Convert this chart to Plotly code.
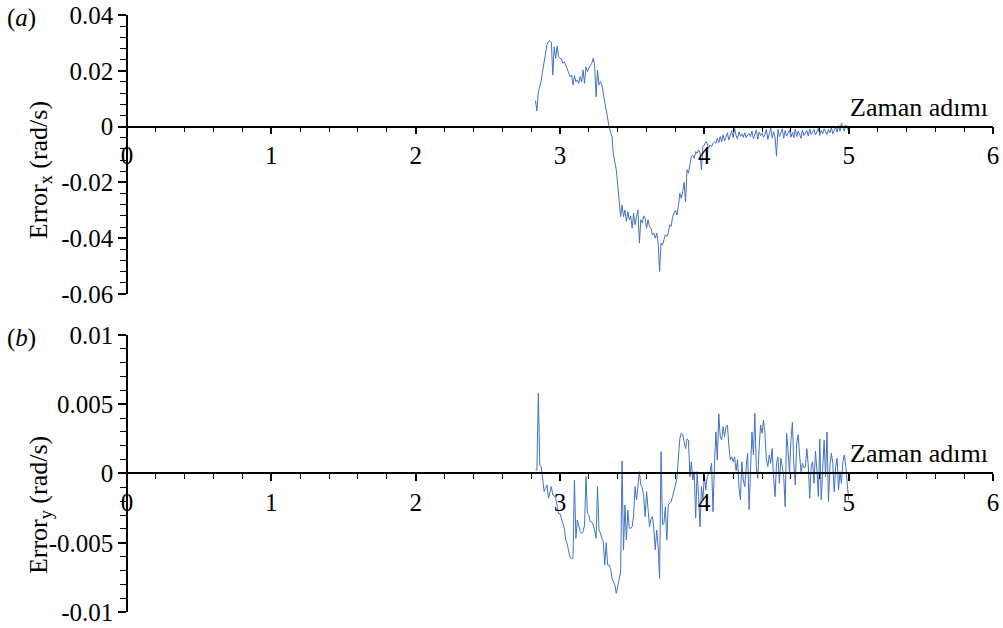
import plotly.graph_objects as go

# ---------------- data ----------------
T0 = 2.83          # first time step of both series
DT = 0.01          # sampling step

# Error_x in units of 1e-3 rad/s, t = 2.83 ... 5.00
err_x_milli = [
    9.3, 5.6, 12.5, 14.5, 16.5, 20.0, 23.2, 26.5, 29.5, 30.5,
    30.8, 30.2, 18.5, 28.6, 24.5, 28.9, 25.0, 24.5, 24.2, 22.7,
    23.2, 22.0, 20.5, 19.7, 17.9, 18.5, 14.9, 18.3, 16.1, 16.7,
    15.5, 17.9, 16.0, 20.3, 15.5, 21.4, 19.7, 21.0, 21.8, 22.7,
    24.5, 22.0, 10.7, 20.3, 14.9, 16.1, 14.9, 12.5, 8.9, 5.9,
    2.4, 0.0, -2.0, -3.5, -10.0, -13.0, -15.5, -21.0, -26.0, -32.3,
    -28.1, -32.3, -29.9, -34.0, -30.5, -33.4, -32.0, -36.4, -31.1, -35.2,
    -32.3, -29.9, -41.8, -33.4, -34.6, -32.0, -32.9, -36.4, -33.4, -35.8,
    -36.5, -38.8, -38.2, -40.0, -38.2, -41.8, -51.9, -41.8, -42.5, -40.0,
    -38.8, -39.4, -38.2, -35.2, -35.8, -32.3, -31.0, -29.9, -31.7, -28.7,
    -23.9, -25.7, -23.3, -20.0, -26.9, -15.5, -16.7, -13.7, -10.8, -10.2,
    -11.4, -9.0, -9.6, -8.4, -9.2, -15.5, -7.2, -6.6, -5.4, -6.0,
    -7.8, -6.6, -7.2, -6.0, -5.4, -6.0, -4.2, -5.8, -3.6, -5.5,
    -3.0, -5.2, -4.0, -2.2, -4.8, -3.5, -1.5, -4.0, -0.6, -3.2,
    -4.5, -1.8, -3.5, -2.6, -3.9, -2.2, -4.0, -3.0, -2.5, -3.6,
    -1.6, -4.4, -2.8, -1.2, -4.5, -2.0, -3.2, -2.4, -3.8, -2.8,
    -1.0, -4.6, -2.5, -0.6, -4.0, -1.8, -3.8, -10.6, -1.0, -3.6,
    -2.2, -0.8, -4.2, -1.4, -3.4, -2.2, -1.2, -3.8, -2.0, -4.0,
    -0.9, -3.6, -1.6, -2.8, -4.2, -1.2, -3.2, -2.4, -1.4, -3.4,
    -0.8, -2.8, -1.8, -1.0, -3.0, -1.6, -0.6, -3.2, -1.4, -2.6,
    -0.8, -1.9, -2.8, -1.0, -2.2, -0.4, -2.6, -1.2, -0.2, -2.0,
    0.4, -1.6, 1.3, -0.4, -1.6, 0.6, -0.2, -1.8,
]

# Error_y in units of 1e-3 rad/s, t = 2.83 ... 5.00
err_y_milli = [
    0.25, 0.25, 5.79, 0.61, 0.49, -0.59, -1.31, -1.07, -0.83, -1.79,
    -1.31, -0.95, -1.55, -1.6, -1.79, -2.4, -2.88, -2.9, -3.3, -3.6,
    -3.96, -4.8, -5.1, -5.6, -6.08, -6.12, -6.1, -0.47, -4.68, -3.36,
    -3.84, -4.2, -4.32, -4.2, -3.72, -0.23, -2.9, -3.0, -3.48, -3.5,
    -3.72, -4.08, -4.68, -0.95, -4.08, -4.3, -4.68, -4.92, -6.6, -5.0,
    -6.6, -6.6, -6.85, -7.57, -7.8, -8.05, -8.65, -8.2, -7.7, -7.09,
    0.9, -5.52, -2.27, -4.8, -2.64, -3.96, -3.96, -3.84, -3.0, -0.95,
    -1.91, -1.07, 0.13, -0.83, -1.0, -1.67, -3.12, -1.31, -2.6, -3.84,
    -3.3, -3.12, -3.96, -5.52, -4.08, -5.3, -7.57, 1.58, -3.72, -3.6,
    -2.4, -4.8, -2.27, -2.15, -2.03, -1.67, -1.31, -0.83, -0.35, 1.1,
    2.5, 2.9, 2.8, 2.3, 1.8, 2.5, 2.4, -0.23, 0.85, -0.47,
    0.13, -3.2, 0.13, -1.67, -3.84, -0.95, -1.91, -0.1, -1.19, -0.23,
    0.0, 0.13, 0.73, -2.76, 0.6, 3.0, 0.97, 4.3, 2.66, 2.42,
    3.38, 2.66, 3.38, 3.5, 2.0, 0.97, 1.2, 0.85, 1.2, 0.2,
    1.0, -1.0, -1.9, 0.85, -0.47, -0.95, 0.5, 1.46, -2.6, 0.5,
    3.0, 1.34, 4.35, 0.5, -0.35, 1.9, 3.5, 2.9, 3.86, 2.9,
    0.97, 0.5, 1.34, 0.73, 1.8, -0.35, -1.67, 0.73, 1.2, -0.71,
    1.1, 0.5, -0.23, -2.4, 2.9, 1.7, 0.0, 2.4, 3.7, 0.73,
    -0.83, 2.2, 2.8, 1.34, 0.13, 0.73, 0.4, 0.5, 1.8, 0.6,
    -1.79, 0.5, 0.85, -0.71, 1.6, 0.25, -1.67, 2.5, -1.9, 0.25,
    2.4, -0.23, 3.0, -2.03, 0.5, 1.46, 0.73, -1.31, 0.5, 1.1,
    -1.19, 0.13, -0.71, 0.85, 1.34, 0.5, -1.07, -1.91,
]

x_range = [0, 6]
x_tickvals = [0, 1, 2, 3, 4, 5, 6]
x_ticktext = ["0", "1", "2", "3", "4", "5", "6"]

top_range = [-0.06, 0.04]
top_tickvals = [-0.06, -0.04, -0.02, 0, 0.02, 0.04]
top_ticktext = ["-0.06", "-0.04", "-0.02", "0", "0.02", "0.04"]

bot_range = [-0.01, 0.01]
bot_tickvals = [-0.01, -0.005, 0, 0.005, 0.01]
bot_ticktext = ["-0.01", "-0.005", "0", "0.005", "0.01"]

x_label = "Zaman adımı"
top_title = "Error<sub>x</sub> (rad/s)"
bot_title = "Error<sub>y</sub> (rad/s)"
panel_labels = ["(<i>a</i>)", "(<i>b</i>)"]

# ---------------- styling ----------------
FONT = "Times New Roman, Liberation Serif, serif"
LINE_COLOR = "#4472C4"
W, H = 1003, 628
dom_top = [0.5327, 1.0]
dom_bot = [0.0, 0.464]


def zero_pos(dom, rng):
    return dom[0] + (0 - rng[0]) / (rng[1] - rng[0]) * (dom[1] - dom[0])


fig = go.Figure()
fig.add_trace(go.Scatter(
    x0=T0, dx=DT, y=[v / 1000 for v in err_x_milli],
    mode="lines", line=dict(color=LINE_COLOR, width=1),
    xaxis="x", yaxis="y", showlegend=False))
fig.add_trace(go.Scatter(
    x0=T0, dx=DT, y=[v / 1000 for v in err_y_milli],
    mode="lines", line=dict(color=LINE_COLOR, width=1),
    xaxis="x2", yaxis="y2", showlegend=False))

tickfont = dict(family=FONT, size=25, color="black")

xcommon = dict(
    range=x_range, domain=[0, 1], anchor="free", automargin=False,
    showline=True, linecolor="black", linewidth=1.5,
    ticks="outside", ticklen=7, tickwidth=1.5, tickcolor="black",
    tickmode="array", tickvals=x_tickvals, ticktext=x_ticktext,
    tickfont=tickfont, showgrid=False, zeroline=False,
    minor=dict(ticks="outside", dtick=0.2, tick0=0, ticklen=5,
               tickwidth=1.2, tickcolor="black", showgrid=False),
)
ycommon = dict(
    anchor="free", position=0, automargin=False,
    showline=True, linecolor="black", linewidth=1.5,
    ticks="outside", ticklen=8, tickwidth=1.5, tickcolor="black",
    tickmode="array", tickfont=tickfont,
    showgrid=False, zeroline=False,
)

fig.update_layout(
    width=W, height=H,
    margin=dict(l=127, r=10, t=15, b=16, autoexpand=False),
    paper_bgcolor="white", plot_bgcolor="white",
    font=dict(family=FONT, color="black"),
    xaxis=dict(**xcommon, position=zero_pos(dom_top, top_range)),
    xaxis2=dict(**xcommon, position=zero_pos(dom_bot, bot_range)),
    yaxis=dict(**ycommon, domain=dom_top, range=top_range,
               tickvals=top_tickvals, ticktext=top_ticktext,
               minor=dict(ticks="outside", dtick=0.004, tick0=0, ticklen=6,
                          tickwidth=1.2, tickcolor="black", showgrid=False)),
    yaxis2=dict(**ycommon, domain=dom_bot, range=bot_range,
                tickvals=bot_tickvals, ticktext=bot_ticktext,
                minor=dict(ticks="outside", dtick=0.001, tick0=0, ticklen=6,
                           tickwidth=1.2, tickcolor="black", showgrid=False)),
)

ann_font = dict(family=FONT, size=26, color="black")
for xr, yr in (("x", "y"), ("x2", "y2")):
    fig.add_annotation(text=x_label, xref=xr, yref=yr, x=x_range[1], y=0,
                       xanchor="right", yanchor="bottom", xshift=-3, yshift=3,
                       showarrow=False, font=ann_font)

fig.add_annotation(text=top_title, xref="paper", yref="paper",
                   x=-0.1005, y=0.740, textangle=-90,
                   xanchor="center", yanchor="middle",
                   showarrow=False, font=ann_font)
fig.add_annotation(text=bot_title, xref="paper", yref="paper",
                   x=-0.1005, y=0.179, textangle=-90,
                   xanchor="center", yanchor="middle",
                   showarrow=False, font=ann_font)

fig.add_annotation(text=panel_labels[0], xref="paper", yref="paper",
                   x=-0.1224, y=0.995, xanchor="center", yanchor="middle",
                   showarrow=False, font=dict(family=FONT, size=25, color="black"))
fig.add_annotation(text=panel_labels[1], xref="paper", yref="paper",
                   x=-0.1224, y=0.459, xanchor="center", yanchor="middle",
                   showarrow=False, font=dict(family=FONT, size=25, color="black"))

fig.write_html("out.html",
               config={"displayModeBar": False},
               post_script="document.body.style.margin='0';"
                           "document.body.style.padding='0';")
